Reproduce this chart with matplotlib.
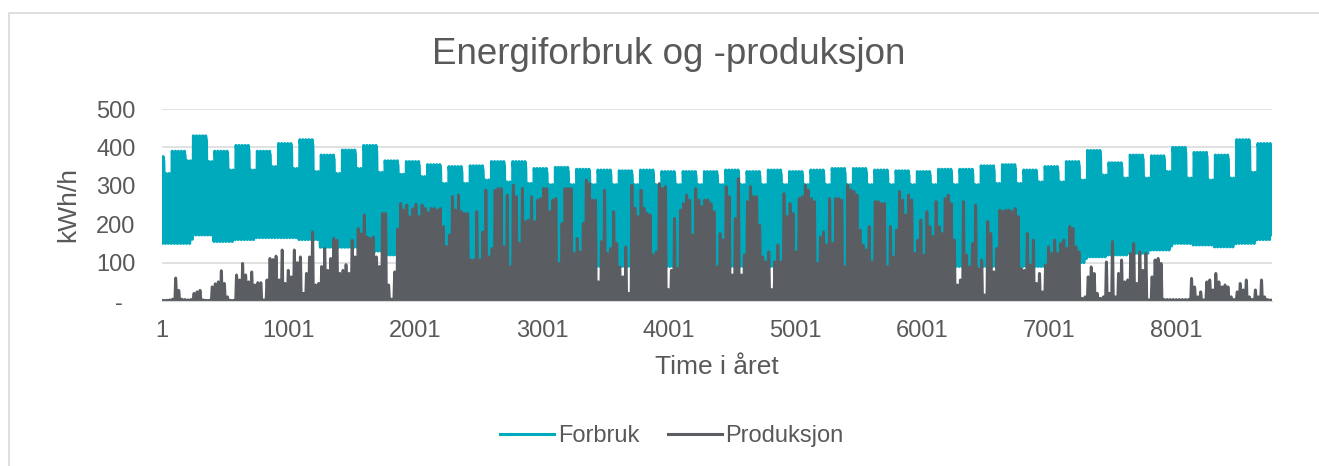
import numpy as np
import matplotlib
matplotlib.use("Agg")
import matplotlib.pyplot as plt
from matplotlib.patches import Rectangle
from matplotlib.lines import Line2D

plt.rcParams['font.family'] = ['Liberation Sans', 'DejaVu Sans']

# ----------------------------- data -----------------------------
# Consumption: weekly envelopes (week 0 = days 0-2, then Monday-Sunday weeks)
weekday_max = [376, 390, 430, 390, 405, 390, 410, 420, 380, 393, 405, 365, 363, 355,
               350, 352, 363, 363, 345, 348, 343, 341, 339, 341, 337, 337, 337, 341,
               337, 341, 337, 341, 345, 345, 341, 339, 337, 343, 343, 352, 355, 341,
               350, 363, 392, 360, 380, 378, 400, 387, 380, 420, 410]
weekend_max = [332, 365, 363, 341, 341, 350, 345, 337, 332, 345, 335, 330, 324, 306,
               306, 315, 310, 306, 303, 303, 303, 303, 303, 303, 303, 303, 303, 303,
               303, 303, 303, 303, 303, 303, 303, 303, 303, 303, 303, 306, 306, 310,
               310, 315, 328, 320, 320, 337, 320, 315, 320, 335, 330]
week_min = [150, 150, 172, 155, 160, 165, 165, 160, 140, 140, 130, 120, 110, 100,
            95, 90, 90, 90, 90, 90, 90, 90, 90, 90, 90, 90, 90, 90,
            90, 90, 90, 90, 90, 90, 90, 90, 90, 90, 90, 90, 90, 90,
            90, 100, 115, 120, 124, 133, 150, 146, 141, 150, 160]

# Production: daily peak (kWh/h), day 0 .. day 364
prod_peak = [
    2, 2, 3, 5, 60, 28, 5, 4, 3, 4, 20, 24, 28, 3, 2, 2, 37, 45, 50, 79,
    46, 11, 2, 2, 68, 55, 98, 68, 50, 76, 42, 48, 48, 3, 55, 111, 108, 117, 55, 133,
    46, 80, 63, 133, 100, 115, 20, 72, 115, 180, 42, 46, 90, 137, 80, 111, 163, 158, 72, 80,
    95, 72, 158, 115, 189, 175, 224, 167, 163, 167, 115, 90, 228, 228, 42, 5, 76, 187, 254, 237,
    250, 220, 240, 252, 220, 250, 241, 230, 241, 241, 237, 241, 194, 142, 172,
    272, 237, 276, 233, 228, 228, 107, 107, 233, 107, 180, 289, 115, 137, 289, 293, 293, 141, 276, 89,
    302, 272, 150, 293, 207, 211, 272, 207, 263, 267, 293, 293, 233, 263, 267, 98, 202, 293, 293, 293,
    124, 163, 128, 202, 315, 306, 263, 263, 50, 155, 289, 124, 137, 233, 150, 89, 63, 141, 20, 302,
    242, 220, 289, 242, 228, 224, 120, 128, 306, 293, 298, 30, 80, 215, 85, 237, 254, 276, 263, 172,
    293, 263, 246, 263, 263, 254, 233, 89, 176, 159, 298, 272, 68, 215, 319, 68, 120, 259, 298, 272,
    272, 198, 115, 102, 128, 30, 102, 146, 102, 280, 220, 254, 228, 128, 267, 272, 302, 289, 267, 259,
    98, 167, 180, 146, 267, 150, 267, 267, 263, 89, 302, 289,
    285, 276, 185, 146, 133, 194, 102, 259, 259, 254, 254, 89, 194, 115, 185, 285, 263, 224, 276, 263,
    124, 159, 211, 120, 233, 194, 168, 259, 194, 176, 267, 276, 254, 159, 42, 55, 259, 120, 89, 150,
    250, 85, 107, 16, 207, 176, 76, 137, 237, 233, 237, 237, 233, 241, 220, 85, 80, 176, 94, 159,
    46, 72, 24, 94, 141, 124, 159, 124, 150, 159, 137, 194, 189, 141, 128, 7, 11, 63, 89, 72,
    20, 7, 11, 102, 20, 155, 11, 72, 107, 50, 55, 124, 150, 46, 128, 80, 124, 3, 63, 107,
    111, 98, 4, 4, 4, 4, 4, 4, 4, 4, 4, 59, 37, 11, 24, 3, 50, 55, 29, 72,
    50, 37, 42, 37, 11, 4, 24, 46, 29, 55, 11, 4, 29, 11, 55, 11, 4, 3]

# Typical hourly shapes (fraction of the daily range)
cons_profile = [0.05, 0.0, 0.0, 0.0, 0.05, 0.2, 0.5, 0.85, 1.0, 1.0, 0.98, 0.97,
                0.96, 0.95, 0.95, 0.9, 0.8, 0.6, 0.45, 0.35, 0.25, 0.15, 0.1, 0.05]
prod_profile = [0, 0, 0, 0, 0, 0.05, 0.15, 0.35, 0.6, 0.8, 0.92, 0.98,
                1.0, 0.98, 0.92, 0.8, 0.6, 0.35, 0.15, 0.05, 0, 0, 0, 0]

x_ticks = [1, 1001, 2001, 3001, 4001, 5001, 6001, 7001, 8001]
y_ticks = [0, 100, 200, 300, 400, 500]
y_labels = ['-  ', '100', '200', '300', '400', '500']

# ----------------------------- build hourly series -----------------------------
forbruk = []
produksjon = []
for d in range(365):
    wk = (d + 4) // 7
    dow = (d + 4) % 7
    top = weekend_max[wk] if dow >= 5 else weekday_max[wk]
    low = week_min[wk]
    for h in range(24):
        forbruk.append(low + (top - low) * cons_profile[h])
        produksjon.append(prod_peak[d] * prod_profile[h])
hours = np.arange(1, len(forbruk) + 1)

# ----------------------------- figure -----------------------------
W, H = 1319, 466
teal = '#00AABD'
grey = '#5A5E63'
txt = '#595959'

fig = plt.figure(figsize=(W / 100, H / 100), dpi=100)
ax = fig.add_axes([162 / W, 1 - 301 / H, (1272 - 162) / W, (301 - 109) / H])

# outer chart border
fig.patches.append(Rectangle((9 / W, -0.1), 1.2, 1 - 13 / H + 0.1, transform=fig.transFigure,
                             fill=False, edgecolor='#d9d9d9', linewidth=1.2))

ax.plot(hours, forbruk, color=teal, linewidth=2.2)
ax.plot(hours, produksjon, color=grey, linewidth=2.0)

ax.set_xlim(1, 8760)
ax.set_ylim(0, 500)
ax.set_yticks(y_ticks)
ax.set_yticklabels(y_labels)
ax.set_xticks(x_ticks)
ax.set_xticklabels([str(t) for t in x_ticks])
ax.tick_params(axis='both', length=0, labelsize=17, colors=txt)
ax.tick_params(axis='y', pad=19)
ax.tick_params(axis='x', pad=14)
ax.grid(axis='y', color='#d9d9d9', linewidth=1.1)
ax.set_axisbelow(True)
for s in ['top', 'right', 'left']:
    ax.spines[s].set_visible(False)
ax.spines['bottom'].set_color('#d9d9d9')

fig.text(669 / W, 1 - 55 / H, 'Energiforbruk og -produksjon', ha='center', va='center',
         fontsize=26.5, color=txt)
fig.text(717 / W, 1 - 367 / H, 'Time i året', ha='center', va='center', fontsize=19, color=txt)
fig.text(68 / W, 1 - 205 / H, 'kWh/h', ha='center', va='center', rotation=90,
         fontsize=19, color=txt)

handles = [Line2D([], [], color=teal, linewidth=2.2), Line2D([], [], color=grey, linewidth=2.2)]
fig.legend(handles, ['Forbruk', 'Produksjon'], loc='center', bbox_to_anchor=(672 / W, 1 - 436 / H),
           ncol=2, frameon=False, fontsize=17, labelcolor=txt, handlelength=2.3,
           handletextpad=0.15, columnspacing=1.2)

fig.savefig('out.png', dpi=100)
